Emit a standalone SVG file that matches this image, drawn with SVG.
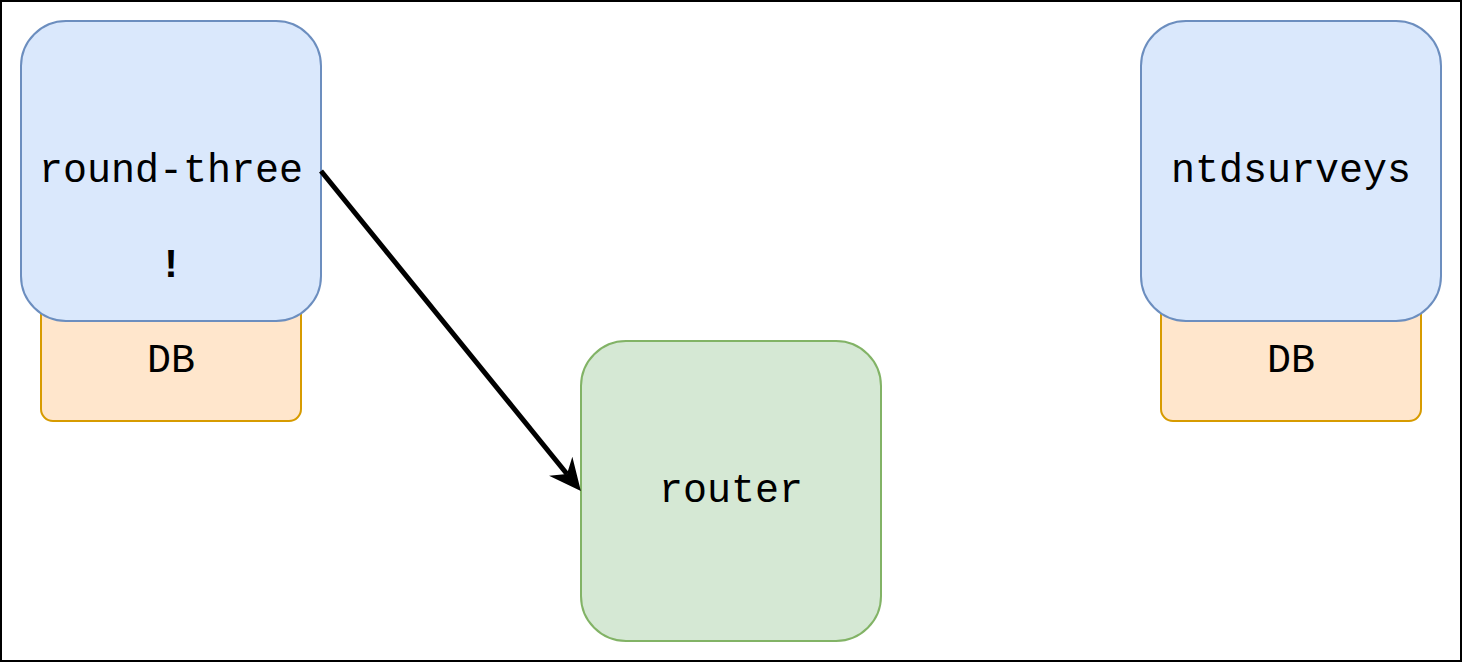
<svg xmlns="http://www.w3.org/2000/svg" width="1462" height="662" viewBox="0 0 1462 662">
<style>
.lbl{font-family:"Liberation Mono","Courier New",monospace;font-size:40px;fill:#000;text-anchor:middle}
.svc{fill:#dae8fc;stroke:#6c8ebf;stroke-width:2}
.db{fill:#ffe6cc;stroke:#d79b00;stroke-width:2}
.rt{fill:#d5e8d4;stroke:#82b366;stroke-width:2}
.edge{fill:none;stroke:#000;stroke-width:5}
</style>
<defs>
<marker id="arrow" markerUnits="userSpaceOnUse" viewBox="-12 -17 36 34" markerWidth="36" markerHeight="34" refX="0" refY="0" orient="auto">
<path d="M22,0 L-10,-15 L0,0 L-10,15 Z" fill="#000"/>
</marker>
</defs>
<rect x="1" y="1" width="1460" height="660" fill="#fff" stroke="#000" stroke-width="2"/>
<g id="db-left">
<rect class="db" x="41" y="281" width="260" height="140" rx="12"/>
<text class="lbl" x="171" y="372">DB</text>
</g>
<g id="round-three">
<rect class="svc" x="21" y="21" width="300" height="300" rx="45"/>
<text class="lbl" x="171" y="182">round-three</text>
<text class="lbl" x="171" y="277" font-weight="bold">!</text>
</g>
<g id="db-right">
<rect class="db" x="1161" y="281" width="260" height="140" rx="12"/>
<text class="lbl" x="1291" y="372">DB</text>
</g>
<g id="ntdsurveys">
<rect class="svc" x="1141" y="21" width="300" height="300" rx="45"/>
<text class="lbl" x="1291" y="182">ntdsurveys</text>
</g>
<g id="router">
<rect class="rt" x="581" y="341" width="300" height="300" rx="45"/>
<text class="lbl" x="731" y="502">router</text>
</g>
<g id="connectors">
<line class="edge" x1="321" y1="171" x2="567" y2="474" marker-end="url(#arrow)"/>
</g>
</svg>
